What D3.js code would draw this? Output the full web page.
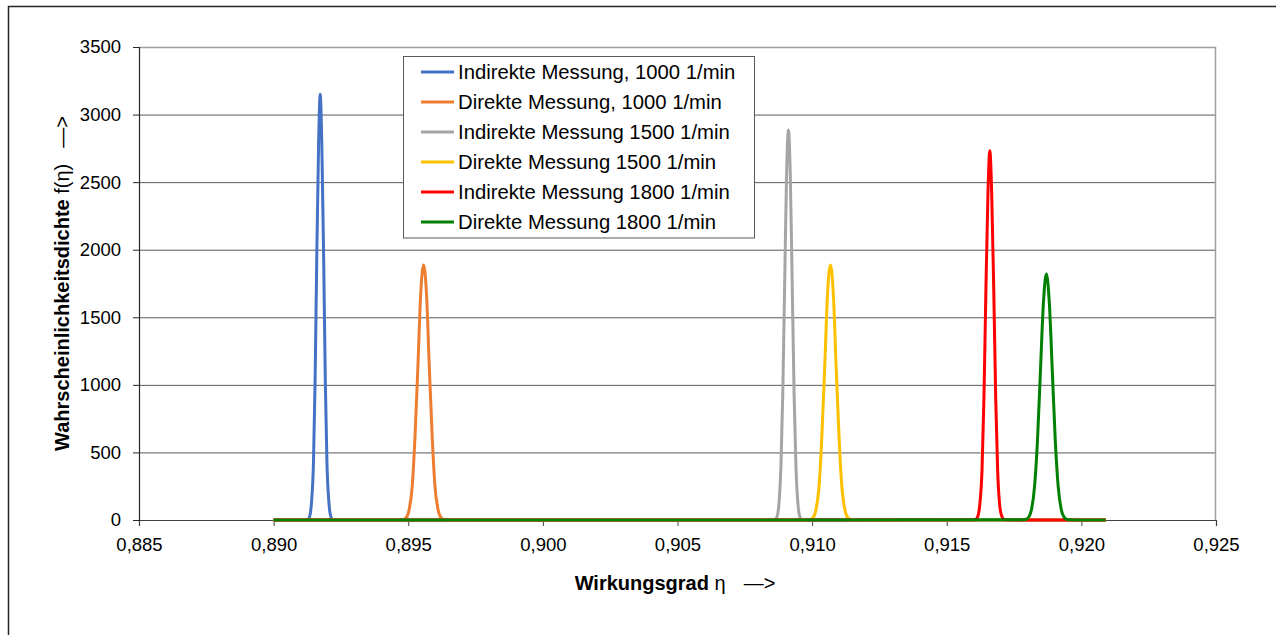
<!DOCTYPE html>
<html><head><meta charset="utf-8">
<script src="https://cdn.jsdelivr.net/npm/d3@7"></script>
<style>
body{margin:0;background:#fff}
svg{display:block;font-family:"Liberation Sans",Arial,sans-serif}
</style>
</head><body>
<svg id="chart" width="1280" height="635"></svg>
<script>
// ---- data ----
const seriesNames = [
  "Indirekte Messung, 1000 1/min",
  "Direkte Messung, 1000 1/min",
  "Indirekte Messung 1500 1/min",
  "Direkte Messung 1500 1/min",
  "Indirekte Messung 1800 1/min",
  "Direkte Messung 1800 1/min"
];
const seriesColors = ["#4472C4", "#ED7D31", "#A5A5A5", "#FFC000", "#FF0000", "#008000"];

const etaStart = 0.890, etaEnd = 0.9209;

const etaInd1000 = [0.89122,0.89129,0.89135,0.89141,0.89148,0.89154,0.89160,0.89167,0.89173,0.89179,0.89186,0.89192,0.89198,0.89205,0.89211,0.89217,0.89224];
const fInd1000   = [1,7,35,138,426,1023,1910,2780,3150,2780,1910,1023,426,138,35,7,1];

const etaDir1000 = [0.89472,0.89483,0.89494,0.89504,0.89515,0.89525,0.89536,0.89546,0.89557,0.89568,0.89578,0.89589,0.89599,0.89610,0.89620,0.89631,0.89642];
const fDir1000   = [1,4,21,83,255,613,1144,1665,1887,1665,1144,613,255,83,21,4,1];

const etaInd1500 = [0.90857,0.90864,0.90871,0.90877,0.90884,0.90891,0.90898,0.90905,0.90912,0.90919,0.90926,0.90933,0.90940,0.90947,0.90953,0.90960,0.90967];
const fInd1500   = [1,6,32,127,390,937,1750,2547,2886,2547,1750,937,390,127,32,6,1];

const etaDir1500 = [0.90983,0.90994,0.91005,0.91015,0.91026,0.91036,0.91047,0.91057,0.91068,0.91079,0.91089,0.91100,0.91110,0.91121,0.91131,0.91142,0.91153];
const fDir1500   = [1,4,21,83,255,613,1144,1665,1887,1665,1144,613,255,83,21,4,1];

const etaInd1800 = [0.91602,0.91609,0.91616,0.91623,0.91631,0.91638,0.91645,0.91653,0.91660,0.91667,0.91675,0.91682,0.91689,0.91696,0.91704,0.91711,0.91718];
const fInd1800   = [1,6,30,120,370,887,1658,2412,2733,2412,1658,887,370,120,30,6,1];

const etaDir1800 = [0.91782,0.91793,0.91804,0.91815,0.91826,0.91837,0.91848,0.91859,0.91870,0.91881,0.91892,0.91903,0.91914,0.91925,0.91936,0.91947,0.91958];
const fDir1800   = [1,4,20,80,246,591,1104,1606,1820,1606,1104,591,246,80,20,4,1];

const xTicks = [0.885,0.890,0.895,0.900,0.905,0.910,0.915,0.920,0.925];
const yTicks = [0,500,1000,1500,2000,2500,3000,3500];

const etaSets = [etaInd1000, etaDir1000, etaInd1500, etaDir1500, etaInd1800, etaDir1800];
const fSets   = [fInd1000, fDir1000, fInd1500, fDir1500, fInd1800, fDir1800];

// ---- layout ----
const svg = d3.select("#chart");
const L = 139, R = 1216, T = 47, B = 520;
const x = d3.scaleLinear().domain([0.885, 0.925]).range([L, R]);
const y = d3.scaleLinear().domain([0, 3500]).range([B, T]);
const font = '"Liberation Sans",Arial,sans-serif';

// outer frame
svg.append("path").attr("d", "M8.5,640 V6.5 H1276")
  .attr("fill", "none").attr("stroke", "#262626").attr("stroke-width", 1.5);

// gridlines
const grid = svg.append("g").attr("transform", `translate(${L},0)`)
  .call(d3.axisLeft(y).tickValues(yTicks.filter(v => v > 0 && v < 3500)).tickSize(-(R - L)).tickFormat(""));
grid.select(".domain").remove();
grid.selectAll("line").attr("stroke", "#595959").attr("stroke-width", 1);

// plot border (top / right)
svg.append("path").attr("d", `M${L},${T + 0.5} H${R - 0.5} V${B}`)
  .attr("fill", "none").attr("stroke", "#A0A0A0").attr("stroke-width", 1.5);

// x axis
const xAxis = svg.append("g").attr("transform", `translate(0,${B})`)
  .call(d3.axisBottom(x).tickValues(xTicks).tickSize(6).tickPadding(12)
    .tickFormat(d => d3.format(".3f")(d).replace(".", ",")));
xAxis.select(".domain").attr("stroke", "#404040").attr("stroke-width", 1.2);
xAxis.selectAll("line").attr("stroke", "#404040");
xAxis.selectAll("text").attr("font-size", 18.5).attr("font-family", font).attr("fill", "#000");

// y axis
const yAxis = svg.append("g").attr("transform", `translate(${L},0)`)
  .call(d3.axisLeft(y).tickValues(yTicks).tickSize(6).tickPadding(12).tickFormat(d3.format("d")));
yAxis.select(".domain").attr("stroke", "#262626").attr("stroke-width", 1.2);
yAxis.selectAll("line").attr("stroke", "#262626");
yAxis.selectAll("text").attr("font-size", 18.5).attr("font-family", font).attr("fill", "#000");

// series
const line = d3.line().x(d => x(d[0])).y(d => y(d[1])).curve(d3.curveMonotoneX);
etaSets.forEach((etas, i) => {
  const pts = [[etaStart, 0]].concat(etas.map((e, j) => [e, fSets[i][j]]), [[etaEnd, 0]]);
  svg.append("path").datum(pts).attr("d", line)
    .attr("fill", "none").attr("stroke", seriesColors[i]).attr("stroke-width", 3)
    .attr("stroke-linejoin", "round");
});

// legend
const lg = svg.append("g");
lg.append("rect").attr("x", 403.5).attr("y", 56.5).attr("width", 351).attr("height", 181.5)
  .attr("fill", "#fff").attr("stroke", "#595959").attr("stroke-width", 1);
seriesNames.forEach((n, i) => {
  const cy = 72 + i * 30;
  lg.append("line").attr("x1", 421).attr("x2", 454).attr("y1", cy).attr("y2", cy)
    .attr("stroke", seriesColors[i]).attr("stroke-width", 3);
  lg.append("text").attr("x", 458).attr("y", cy).attr("dy", "0.35em")
    .attr("font-size", 20.3).attr("font-family", font).attr("fill", "#000").text(n);
});

// x title
const xt = svg.append("text").attr("x", 675).attr("y", 583).attr("dy", "0.35em")
  .attr("text-anchor", "middle").attr("font-size", 20).attr("font-family", font).attr("fill", "#000");
xt.append("tspan").attr("font-weight", "bold").text("Wirkungsgrad ");
xt.append("tspan").text("η");
xt.append("tspan").attr("dx", 18).text("—>");

// y title
const yt = svg.append("text").attr("transform", `translate(62,${(T + B) / 2}) rotate(-90)`)
  .attr("dy", "0.35em").attr("text-anchor", "middle").attr("font-size", 20)
  .attr("font-family", font).attr("fill", "#000");
yt.append("tspan").attr("font-weight", "bold").text("Wahrscheinlichkeitsdichte ");
yt.append("tspan").text("f(η)");
yt.append("tspan").attr("dx", 16).text("—>");
</script>
</body></html>
